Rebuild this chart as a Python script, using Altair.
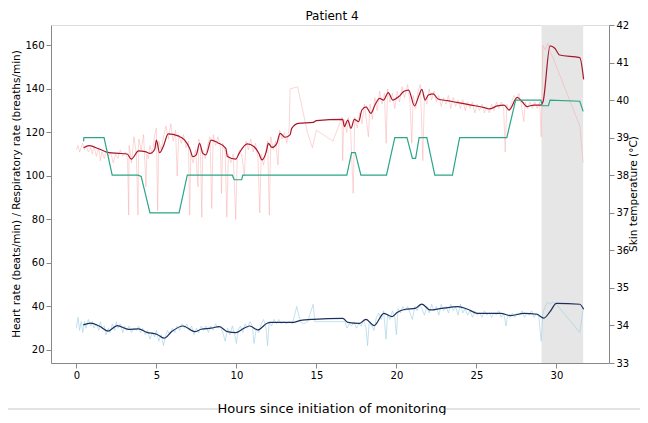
import altair as alt
import pandas as pd

FONT = "DejaVu Sans"

# ---- Heart rate, raw (light red) ----
hr_raw_t = [0.0,0.1,0.2,0.3,0.4,0.5,0.6,0.75,0.9,1.0,1.1,1.25,1.4,1.5,1.6,1.75,1.9,2.0,2.15,2.3,2.45,2.6,2.75,2.9,3.05,3.2,3.27,3.3,3.45,3.6,3.75,3.85,3.9,4.05,4.2,4.35,4.4,4.5,4.6,4.75,4.9,5.0,5.08,5.15,5.3,5.45,5.6,5.75,5.9,6.05,6.2,6.3,6.4,6.55,6.7,6.85,7.0,7.08,7.15,7.3,7.45,7.6,7.65,7.75,7.84,7.9,8.05,8.2,8.35,8.46,8.55,8.7,8.85,9.0,9.07,9.15,9.3,9.4,9.5,9.65,9.8,9.96,10.05,10.2,10.35,10.5,10.6,10.75,10.9,11.05,11.2,11.35,11.46,11.55,11.7,11.85,11.95,12.06,12.15,12.3,12.45,12.6,12.7,12.85,13.0,13.15,13.3,13.36,13.83,14.44,14.75,15.0,16.03,16.6,16.64,16.72,16.9,17.0,17.15,17.3,17.4,17.55,17.7,17.85,18.0,18.1,18.25,18.35,18.5,18.65,18.8,18.95,19.1,19.25,19.36,19.45,19.6,19.75,19.9,20.05,20.2,20.35,20.5,20.7,20.85,20.96,21.05,21.2,21.35,21.5,21.65,21.75,21.9,22.05,22.2,22.35,22.5,22.65,22.8,22.95,23.1,23.25,23.4,23.55,23.7,23.85,24.0,24.15,24.3,24.45,24.6,24.75,24.9,25.05,25.2,25.35,25.5,25.65,25.8,25.95,26.1,26.25,26.4,26.55,26.7,26.8,26.9,27.05,27.2,27.35,27.5,27.65,27.8,27.96,28.05,28.2,28.35,28.5,28.65,28.8,28.95,29.05,29.15,29.3,29.45,29.6,29.75,31.46,31.67]
hr_raw_v = [112,114,111,113,115,112,114,111,113,110,114,109,113,107,111,108,112,109,111,106,110,108,112,109,111,108,82,114,106,118,110,82,117,112,119,95,110,108,114,110,119,122,84,116,112,118,123,117,124,116,121,100,119,115,119,113,116,82,110,106,112,95,117,113,81,112,108,114,118,85,119,114,118,113,92,115,111,81,110,106,110,80,108,112,109,100,116,112,117,111,115,108,83,110,105,112,116,82,118,112,116,105,121,117,120,115,122,140,141,120,113,121,116,127,107,126,120,127,119,92,127,122,129,124,133,127,118,133,126,136,130,139,133,138,115,140,134,138,131,139,134,141,136,142,134,115,137,131,139,142,107,137,133,140,135,139,134,137,132,136,133,137,131,136,132,135,131,135,130,134,131,134,129,133,130,133,129,132,129,133,130,134,131,134,131,111,133,130,134,137,135,138,133,125,134,131,134,131,134,131,134,118,160,158,161,157,155,123,106]

# ---- Heart rate, smoothed (dark red) ----
hr_s_t = [0.45,0.8,1.42,2.04,2.65,3.17,3.43,3.89,4.3,4.6,4.9,5.0,5.2,5.43,5.74,6.36,6.77,7.08,7.28,7.49,7.7,7.9,8.1,8.42,8.83,9.34,9.44,9.96,10.17,10.68,11.09,11.4,11.6,11.87,12.0,12.22,12.53,12.73,13.04,13.35,13.46,13.87,14.8,15.0,16.64,16.75,16.96,17.16,17.37,17.64,17.84,18.1,18.4,18.66,18.95,19.2,19.49,19.77,20.15,20.45,20.76,21.13,21.42,21.59,21.79,22.0,22.3,22.6,23.2,23.85,24.67,25.5,25.8,26.3,26.73,27.04,27.55,27.86,28.17,28.58,29.0,29.16,29.6,29.9,30.2,31.46,31.7]
hr_s_v = [113,113.9,112.4,110.7,110.4,110.1,107.7,111.5,111.2,110.4,112.3,116.5,110.7,113.5,119.3,118.4,116.5,112.7,108.9,109.7,115,110.4,109.7,116.5,115.3,112.7,108.9,107.7,110.4,114.7,113.5,110.4,107.4,111.2,115,113.1,115,119.6,117.8,118.9,121.9,124.2,124.6,125.4,126,122.7,125.7,121.9,126,125,130.3,131.8,128.8,132.6,135.7,134.9,138.3,134.9,136.5,138.8,139.5,132.2,137.2,139.8,134.9,137.2,137.7,135.4,134.6,133.7,132.6,131.4,130.8,132.2,132.6,130.3,136.1,134.1,131.9,132.6,132.6,134.1,159.8,158.7,155.6,154.4,144.4]

# ---- Respiratory rate, raw (light blue) ----
rr_raw_t = [0.0,0.1,0.2,0.3,0.4,0.5,0.6,0.75,0.9,1.0,1.1,1.25,1.4,1.5,1.6,1.75,1.85,2.0,2.1,2.25,2.4,2.5,2.6,2.75,2.9,3.0,3.15,3.3,3.45,3.6,3.75,3.9,4.0,4.15,4.3,4.45,4.6,4.75,4.9,5.0,5.15,5.3,5.45,5.55,5.7,5.85,6.0,6.15,6.3,6.45,6.6,6.75,6.9,7.05,7.2,7.35,7.5,7.65,7.8,7.95,8.1,8.25,8.4,8.55,8.7,8.85,9.0,9.15,9.3,9.45,9.6,9.75,9.9,10.0,10.1,10.25,10.4,10.55,10.7,10.85,11.0,11.1,11.25,11.4,11.55,11.7,11.85,11.95,12.05,12.2,12.35,12.5,12.65,12.8,12.95,13.1,13.3,13.5,13.77,14.0,14.2,14.45,14.8,14.9,16.8,16.9,17.05,17.2,17.35,17.5,17.65,17.8,17.95,18.1,18.2,18.3,18.45,18.6,18.75,18.9,19.05,19.2,19.35,19.45,19.6,19.75,19.9,20.0,20.1,20.25,20.4,20.55,20.7,20.85,21.0,21.15,21.3,21.45,21.6,21.75,21.9,22.05,22.2,22.35,22.5,22.65,22.8,22.95,23.1,23.25,23.4,23.55,23.7,23.85,24.0,24.15,24.3,24.45,24.6,24.75,24.9,25.05,25.2,25.35,25.5,25.65,25.8,25.95,26.1,26.25,26.4,26.55,26.7,26.85,26.95,27.1,27.25,27.4,27.55,27.7,27.85,28.0,28.15,28.3,28.45,28.6,28.75,28.9,29.05,29.15,29.3,29.45,29.6,29.75,30.0,31.46,31.6,31.67]
rr_raw_v = [30,35,29,33,28,33,30,34,31,33,30,32,29,33,30,31,27,30,28,32,29,33,30,32,28,31,29,31,28,30,29,31,28,30,27,29,25,28,26,29,24,27,22,26,29,27,30,28,31,29,32,30,32,29,31,27,30,28,31,29,31,28,31,29,32,30,31,28,24,30,27,31,27,23,29,31,28,32,30,33,31,23,30,28,32,34,30,22,33,31,34,32,34,32,33,32,33,32,40,33,32,33,41,33,33,30,32,31,33,30,32,31,34,30,22,33,31,29,35,37,34,38,25,36,34,38,35,27,39,37,40,38,40,37,34,40,38,41,39,36,40,37,41,38,40,36,41,38,40,37,41,38,40,36,41,37,39,36,38,35,38,36,37,35,38,36,37,35,37,36,38,35,37,31,36,35,37,35,37,36,38,35,37,36,38,35,37,35,24,37,40,42,41,42,41,28,35,39]

# ---- Respiratory rate, smoothed (navy) ----
rr_s_t = [0.43,0.9,1.42,1.99,2.55,3.27,3.89,4.4,5.02,5.49,5.95,6.67,7.39,7.8,8.41,8.93,9.44,9.96,10.47,10.84,11.34,11.91,12.12,13.56,13.97,14.8,16.65,16.96,17.68,18.1,18.6,19.22,19.73,20.04,20.56,21.17,21.59,22.1,22.82,23.85,24.46,25.08,26.52,27.14,27.96,28.78,29.2,29.6,30.0,31.46,31.7]
rr_s_v = [31.5,32.3,31,28.7,31.2,29.5,29.7,28.1,27.2,25.4,28.4,31,28.4,29.5,30,30.7,28.4,28,30,31,29.2,32.3,32.7,32.7,33.5,34.1,34.5,32.7,32.2,34.1,31.2,36.8,35.3,37.2,38.7,39.1,41.1,38.4,39.1,39.9,38.7,36.8,36.8,35.8,36.8,36.4,34.6,37.6,41.4,41,38.7]

# ---- Skin temperature (teal, right axis) ----
temp_t = [0.45,0.47,1.73,2.24,3.85,4.05,4.6,6.42,6.93,9.75,9.86,10.33,10.4,16.9,17.2,17.43,17.78,19.38,19.9,20.66,21.0,21.2,21.42,21.9,22.4,23.5,23.95,26.9,27.45,29.03,29.1,29.5,29.6,31.46,31.67]
temp_v = [38.9,39.0,39.0,38.0,38.0,37.97,37.0,37.0,38.0,38.0,37.88,37.88,38.0,38.0,38.6,38.6,38.0,38.0,39.0,39.0,38.45,38.45,39.0,39.0,38.0,38.0,39.0,39.0,40.0,40.0,39.85,39.85,40.0,39.97,39.7]

# ---- Shaded interval ----
band_start = [29.07]
band_end = [31.67]

# ---- Texts ----
title_text = "Patient 4"
x_title = "Hours since initiation of monitoring"
yl_title = "Heart rate (beats/min) / Respiratory rate (breaths/min)"
yr_title = "Skin temperature (°C)"
x_ticks = [0, 5, 10, 15, 20, 25, 30]
yl_ticks = [20, 40, 60, 80, 100, 120, 140, 160]
yr_ticks = [33, 34, 35, 36, 37, 38, 39, 40, 41, 42]

W, H = 558, 338
x_dom = [-1.585, 33.285]
yl_dom = [14.0, 169.4]
yr_dom = [33, 42]

xs = alt.Scale(domain=x_dom, nice=False, zero=False)
yls = alt.Scale(domain=yl_dom, nice=False, zero=False)
yrs = alt.Scale(domain=yr_dom, nice=False, zero=False)

x_axis = alt.Axis(values=x_ticks, title=None, grid=False)
yl_axis = alt.Axis(values=yl_ticks, title=None, grid=False)
yr_axis = alt.Axis(values=yr_ticks, title=None, orient="right", grid=False)

band = alt.Chart(pd.DataFrame({"a": band_start, "b": band_end})).mark_rect(
    color="#e6e6e6").encode(
    x=alt.X("a:Q", scale=xs, axis=x_axis), x2="b:Q",
    y=alt.value(0), y2=alt.value(H))

def line(t, v, color, width, opacity, yscale, yaxis, interp="linear"):
    df = pd.DataFrame({"t": t, "v": v})
    return alt.Chart(df).mark_line(color=color, strokeWidth=width, opacity=opacity,
                                   interpolate=interp).encode(
        x=alt.X("t:Q", scale=xs, axis=x_axis),
        y=alt.Y("v:Q", scale=yscale, axis=yaxis))

hr_raw = line(hr_raw_t, hr_raw_v, "#f7a1a1", 0.8, 0.55, yls, yl_axis)
rr_raw = line(rr_raw_t, rr_raw_v, "#9ccfe3", 0.8, 0.75, yls, yl_axis)
hr_s = line(hr_s_t, hr_s_v, "#a8162a", 1.2, 1, yls, yl_axis, "monotone")
rr_s = line(rr_s_t, rr_s_v, "#1c2f5e", 1.2, 1, yls, yl_axis, "monotone")
tmp = line(temp_t, temp_v, "#2aa688", 1.2, 1, yrs, yr_axis)

one = pd.DataFrame({"k": [0]})
sep1 = alt.Chart(one).mark_rule(color="#c8c8c8", strokeWidth=1).encode(
    x=alt.value(-51), x2=alt.value(167), y=alt.value(384))
sep2 = alt.Chart(one).mark_rule(color="#c8c8c8", strokeWidth=1).encode(
    x=alt.value(392), x2=alt.value(600), y=alt.value(384))

def txt(s, x, y, size, angle=0):
    kw = dict(text=s, font=FONT, fontSize=size, color="#000", align="center", baseline="middle")
    if angle:
        kw["angle"] = angle
    return alt.Chart(one).mark_text(**kw).encode(x=alt.value(x), y=alt.value(y))

t_main = txt(title_text, 281, -9, 12)
t_x = txt(x_title, 281, 384, 13)
t_yl = txt(yl_title, -34, H / 2, 10.5, 270)
t_yr = txt(yr_title, 583, H / 2, 10.5, 270)

left = alt.layer(band, hr_raw, hr_s, rr_raw, rr_s, sep1, sep2, t_main, t_x, t_yl, t_yr)

chart = alt.layer(left, tmp).resolve_scale(y="independent").properties(
    width=W, height=H,
    autosize=alt.AutoSizeParams(type="none"),
    padding={"left": 43, "top": 17, "right": 31, "bottom": 52},
).configure_view(stroke="#333", strokeWidth=1).configure_axis(
    labelFont=FONT, labelFontSize=10, labelColor="#000",
    tickSize=3.5, tickColor="#333", domainColor="#333", labelPadding=2.5,
).configure(font=FONT)

chart.save("out.html", embed_options={"renderer": "svg", "actions": False})
